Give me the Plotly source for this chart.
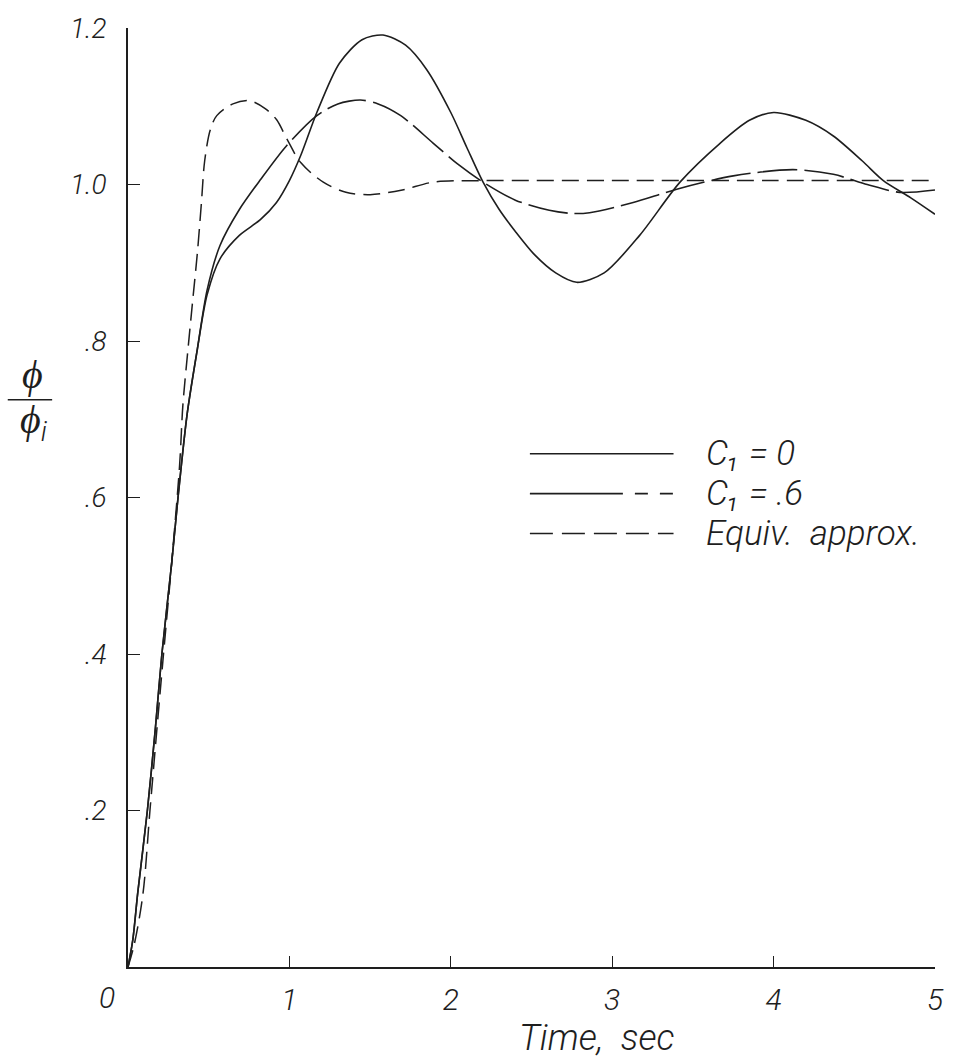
import plotly.graph_objects as go

# ---- data ----
t_c0 = [0, 0.03, 0.06, 0.12, 0.17, 0.21, 0.27, 0.31, 0.366, 0.43, 0.49, 0.57, 0.69, 0.82, 0.92, 1.0, 1.07,
        1.17, 1.31, 1.45, 1.58, 1.72, 1.85, 2.0, 2.1, 2.2, 2.3, 2.4, 2.52, 2.65, 2.78, 2.95, 3.17, 3.42,
        3.67, 3.85, 4.0, 4.2, 4.37, 4.55, 4.68, 4.85, 5.0]
y_c0 = [0, 0.035, 0.094, 0.2, 0.306, 0.4, 0.515, 0.6, 0.706, 0.79, 0.859, 0.905, 0.935, 0.955, 0.977, 1.005, 1.037,
        1.092, 1.155, 1.185, 1.191, 1.178, 1.147, 1.092, 1.047, 1.003, 0.968, 0.94, 0.91, 0.887, 0.875, 0.887, 0.935, 1.003,
        1.053, 1.082, 1.092, 1.082, 1.062, 1.03, 1.005, 0.983, 0.962]

t_c6 = [0, 0.03, 0.06, 0.12, 0.17, 0.21, 0.27, 0.31, 0.366, 0.43, 0.49, 0.57, 0.69, 0.82, 0.98, 1.17, 1.3,
        1.44, 1.55, 1.69, 1.89, 2.05, 2.2, 2.4, 2.61, 2.75, 2.86, 3.13, 3.4, 3.75, 4.12, 4.37, 4.58, 4.78, 5.0]
y_c6 = [0, 0.035, 0.094, 0.2, 0.306, 0.4, 0.515, 0.6, 0.706, 0.79, 0.865, 0.922, 0.968, 1.006, 1.049, 1.088, 1.103,
        1.108, 1.103, 1.088, 1.053, 1.025, 1.003, 0.98, 0.967, 0.963, 0.964, 0.977, 0.994, 1.011, 1.019, 1.013, 1.0, 0.99, 0.993]

t_eq = [0, 0.04, 0.093, 0.136, 0.18, 0.22, 0.27, 0.32, 0.34, 0.37, 0.40, 0.43, 0.455, 0.475, 0.51, 0.55, 0.65,
        0.755, 0.85, 0.92, 0.985, 1.07, 1.21, 1.35, 1.5, 1.7, 1.89, 2.2, 3.0, 4.0, 5.0]
y_eq = [0, 0.03, 0.094, 0.2, 0.306, 0.4, 0.515, 0.642, 0.718, 0.786, 0.85, 0.913, 0.977, 1.03, 1.07, 1.088, 1.103,
        1.107, 1.097, 1.083, 1.058, 1.028, 1.003, 0.99, 0.987, 0.993, 1.003, 1.005, 1.005, 1.005, 1.005]

x_ticks = [1, 2, 3, 4, 5]
x_ticktext = ["1", "2", "3", "4", "5"]
y_ticks = [0.2, 0.4, 0.6, 0.8, 1.0, 1.2]
y_ticktext = [".2", ".4", ".6", ".8", "1.0", "1.2"]

legend_labels = ["C₁ = 0", "C₁ = .6", "Equiv.  approx."]

INK = "#1e1e1e"
FONT = dict(family="Roboto", color=INK, style="italic", weight=300)

# C1 = .6 curve: drawn solid along its first part, then in long dashes
c6_dash = "850px,7px," + ",".join(["40px,7px"] * 60)

fig = go.Figure()
fig.add_trace(go.Scatter(x=t_eq, y=y_eq, mode="lines", line=dict(color=INK, width=1.5, dash="17px,8px", shape="spline", smoothing=0.9)))
fig.add_trace(go.Scatter(x=t_c6, y=y_c6, mode="lines", line=dict(color=INK, width=1.6, dash=c6_dash, shape="spline", smoothing=0.8)))
fig.add_trace(go.Scatter(x=t_c0, y=y_c0, mode="lines", line=dict(color=INK, width=1.6, shape="spline", smoothing=0.8)))

# legend samples (hand-drawn style legend)
leg_x0, leg_x1 = 2.49, 3.38
leg_y = [0.656, 0.605, 0.554]
leg_dash = ["solid", "93px,12px,13px,12px,13px,200px", "23px,9px"]
for yy, d, lab in zip(leg_y, leg_dash, legend_labels):
    fig.add_shape(type="line", x0=leg_x0, x1=leg_x1, y0=yy, y1=yy, xref="x", yref="y",
                  line=dict(color=INK, width=1.6, dash=d))
    fig.add_annotation(x=3.57, y=yy, xref="x", yref="y", text=lab, showarrow=False,
                       xanchor="left", yanchor="middle", font=dict(FONT, size=35))

# y-axis title as fraction phi / phi_i
fig.add_annotation(x=0, y=0.757, xref="paper", yref="y", xshift=-96, text="ϕ", showarrow=False,
                   font=dict(FONT, size=40), xanchor="center", yanchor="middle")
fig.add_shape(type="line", xref="paper", yref="y", x0=-0.149, x1=-0.094, y0=0.725, y1=0.725,
              line=dict(color=INK, width=1.6))
fig.add_annotation(x=0, y=0.697, xref="paper", yref="y", xshift=-94, text="ϕ<sub>i</sub>", showarrow=False,
                   font=dict(FONT, size=40), xanchor="center", yanchor="middle")

# origin label and x title
fig.add_annotation(x=0, y=0, xref="x", yref="y", xshift=-21, yshift=-30, text="0", showarrow=False,
                   font=dict(FONT, size=30), xanchor="center", yanchor="middle")
fig.add_annotation(x=0.581, y=-0.0755, xref="paper", yref="paper", text="Time,  sec", showarrow=False,
                   font=dict(FONT, size=36), xanchor="center", yanchor="middle")

fig.update_layout(
    width=959, height=1061,
    margin=dict(l=128, r=24, t=25, b=94),
    paper_bgcolor="white", plot_bgcolor="white",
    showlegend=False,
    font=FONT,
)
fig.update_xaxes(range=[0, 5], showgrid=False, zeroline=False, showline=True, linecolor=INK, linewidth=1.6,
                 ticks="inside", ticklen=11, tickwidth=1.4, tickcolor=INK,
                 tickvals=x_ticks, ticktext=x_ticktext, tickfont=dict(FONT, size=30), ticklabelstandoff=5)
fig.update_yaxes(range=[0, 1.2], showgrid=False, zeroline=False, showline=True, linecolor=INK, linewidth=1.6,
                 ticks="inside", ticklen=12, tickwidth=1.4, tickcolor=INK,
                 tickvals=y_ticks, ticktext=y_ticktext, tickfont=dict(FONT, size=28), ticklabelstandoff=14)

fig.write_html("out.html")
